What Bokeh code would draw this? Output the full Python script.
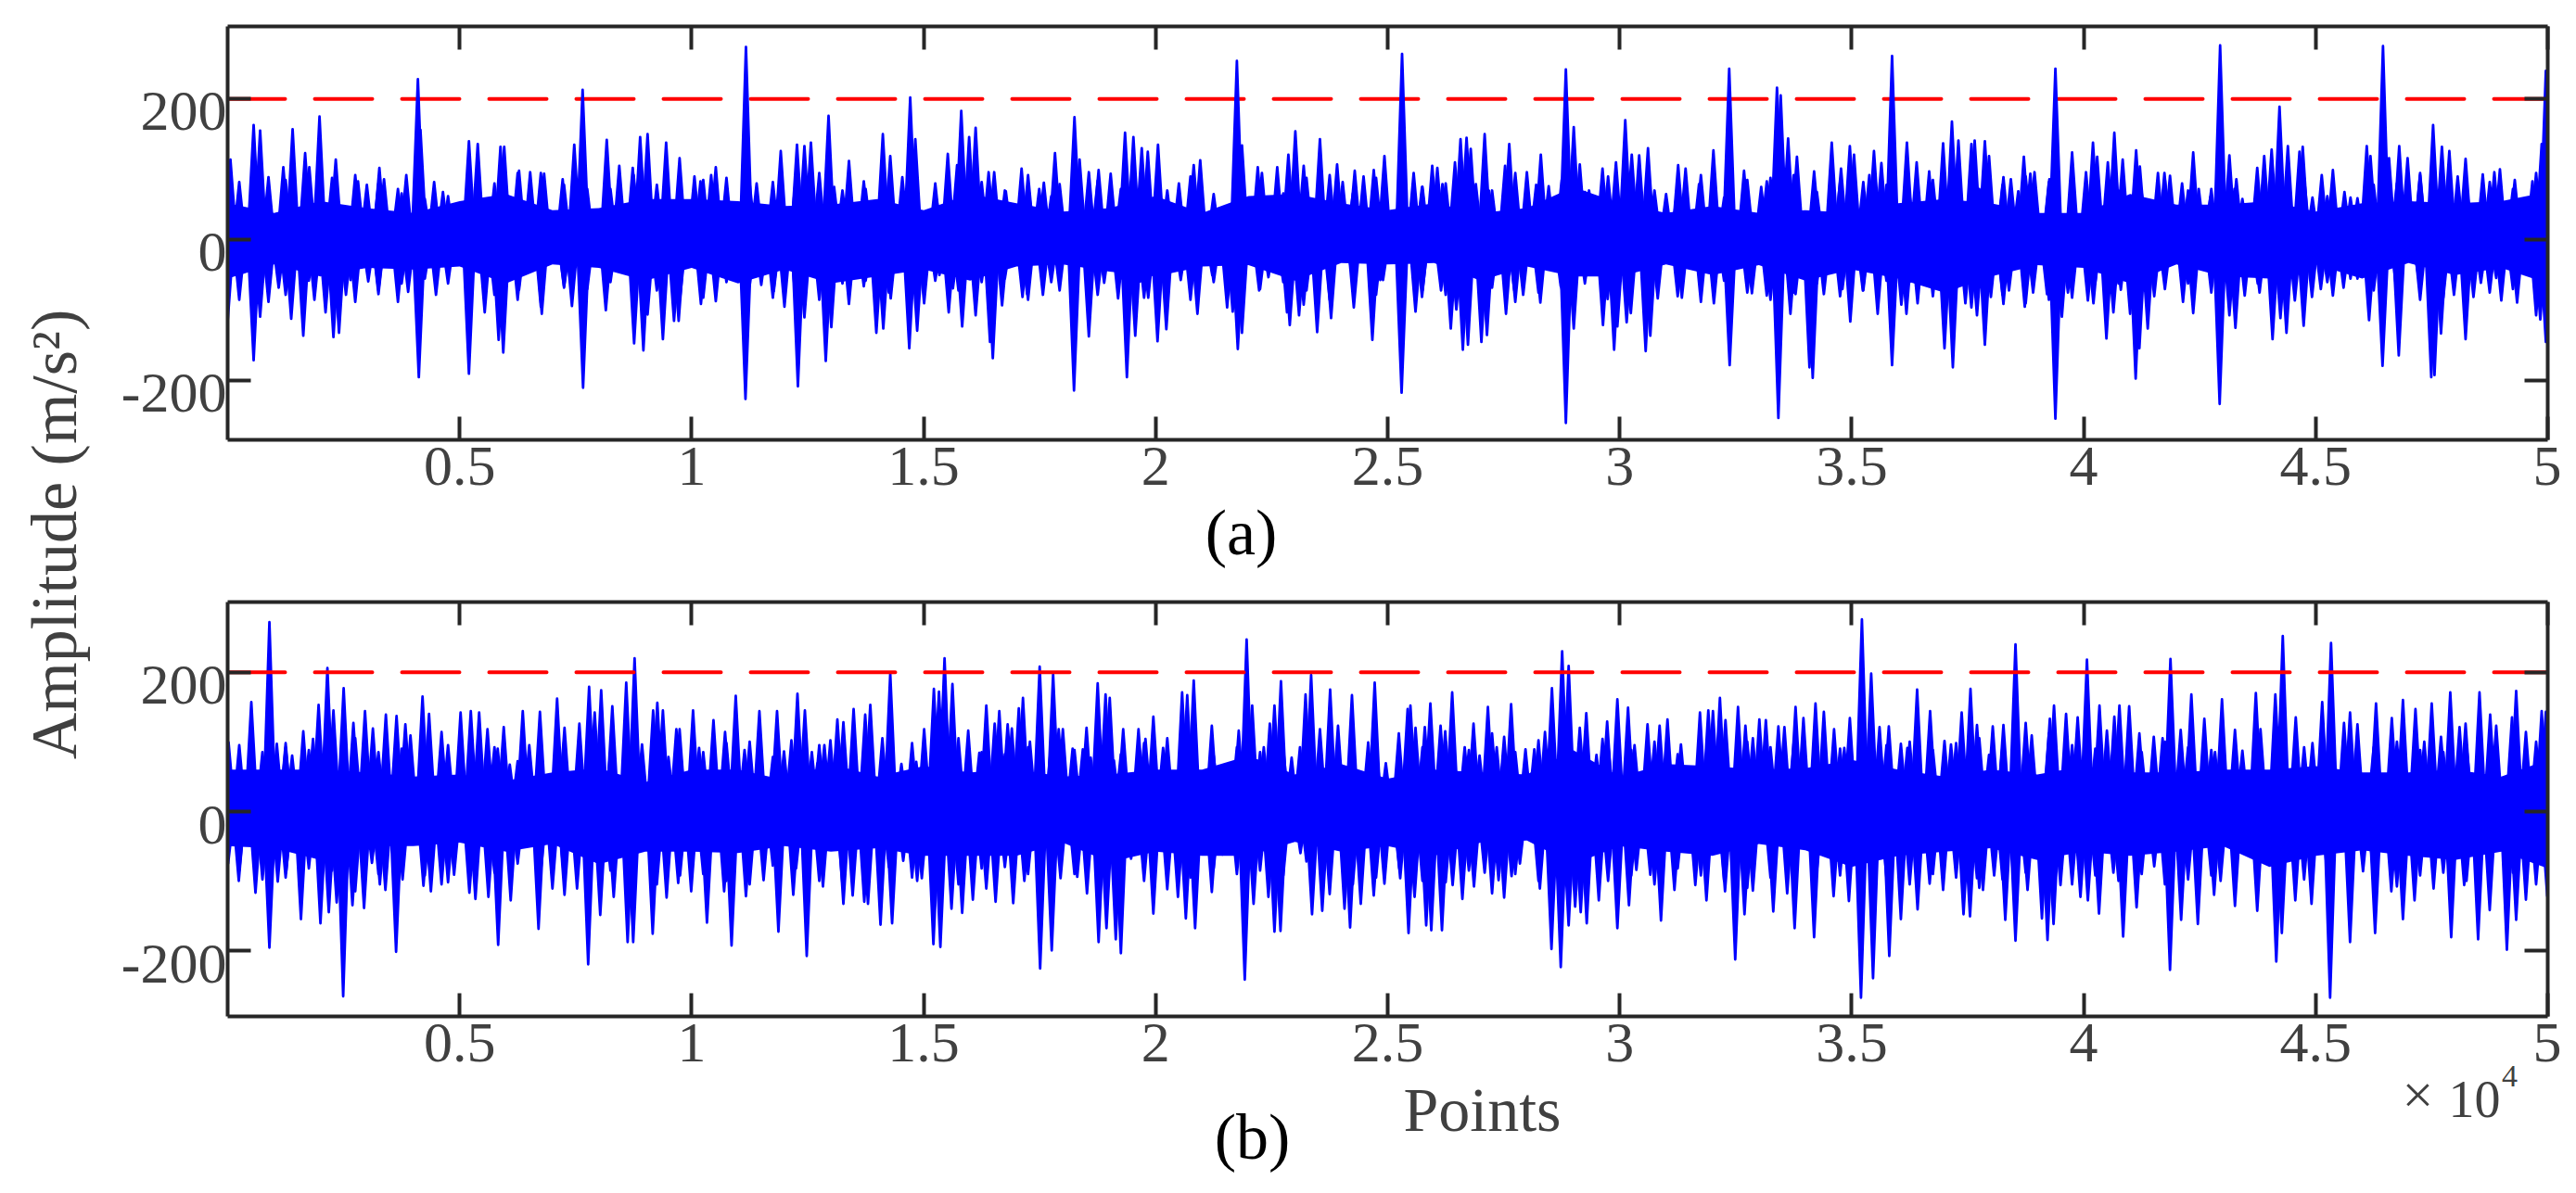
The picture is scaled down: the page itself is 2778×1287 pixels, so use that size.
from bokeh.embed import file_html
from bokeh.layouts import column
from bokeh.models import FixedTicker, Label, LinearAxis, Range1d
from bokeh.plotting import figure
from bokeh.resources import INLINE

x_ticks = [5000, 10000, 15000, 20000, 25000, 30000, 35000, 40000, 45000, 50000]
x_tick_labels = ["0.5", "1", "1.5", "2", "2.5", "3", "3.5", "4", "4.5", "5"]
y_ticks = [-200, 0, 200]
y_tick_labels = ["-200", "0", "200"]
threshold_x = [0, 50000]
threshold_a = [200, 200]
threshold_b = [200, 200]

# solid part of the signal, read every 1000 points
body_x = [i * 1000 for i in range(51)]
body_a_up = [52, 38, 55, 45, 38, 55, 65, 42, 45, 58, 58, 55, 48, 50, 58, 42, 65, 52, 40, 45, 62, 38, 62, 65, 52,
             42, 52, 38, 45, 75, 52, 38, 48, 38, 42, 38, 52, 58, 52, 38, 38, 65, 50, 50, 55, 40, 52, 55, 52, 55, 68]
body_a_low = [-55, -35, -52, -40, -42, -38, -62, -35, -40, -58, -40, -62, -42, -62, -52, -42, -58, -38, -35, -45, -52, -38, -36, -58, -33,
              -35, -33, -58, -38, -52, -52, -35, -50, -36, -58, -42, -55, -75, -52, -36, -40, -62, -35, -52, -55, -35, -55, -33, -50, -40, -62]
body_b_up = [60, 60, 60, 56, 50, 53, 44, 56, 62, 42, 60, 60, 45, 68, 50, 65, 56, 60, 50, 53, 60, 60, 80, 53, 68,
             47, 60, 56, 53, 88, 50, 68, 65, 60, 62, 74, 60, 50, 60, 53, 65, 56, 56, 60, 60, 65, 56, 56, 60, 50, 74]
body_b_low = [-50, -53, -70, -50, -50, -45, -58, -47, -76, -58, -58, -60, -50, -58, -53, -64, -64, -64, -45, -73, -58, -64, -64, -44, -58,
              -50, -64, -45, -42, -76, -50, -58, -64, -47, -56, -80, -64, -58, -53, -70, -58, -64, -58, -50, -80, -64, -56, -64, -70, -58, -82]

# height of the dense comb over the solid part, read every 500 points from 250
comb_x = [250 + i * 500 for i in range(100)]
comb_a_up = [82, 60, 85, 75, 88, 92, 80, 66, 58, 62, 62, 80, 95, 95, 78, 72, 72, 92, 78, 82,
             85, 88, 80, 82, 92, 95, 70, 72, 80, 88, 80, 70, 82, 70, 92, 62, 78, 84, 72, 82,
             70, 90, 65, 85, 80, 66, 88, 92, 66, 88, 62, 75, 80, 65, 70, 95, 75, 85, 68, 70,
             62, 70, 80, 92, 60, 85, 88, 92, 68, 82, 82, 78, 62, 85, 85, 72, 78, 90, 82, 85,
             60, 70, 66, 85, 70, 72, 72, 80, 82, 88, 62, 60, 78, 80, 92, 88, 78, 82, 72, 95]
comb_a_low = [-85, -60, -78, -58, -80, -88, -72, -62, -55, -62, -60, -78, -85, -95, -68, -70, -60, -78, -72, -82,
              -82, -60, -65, -82, -90, -85, -62, -58, -75, -80, -58, -72, -60, -55, -85, -60, -70, -78, -55, -82,
              -62, -85, -60, -72, -70, -60, -72, -85, -60, -78, -50, -72, -78, -65, -68, -88, -75, -70, -62, -65,
              -62, -55, -80, -88, -58, -75, -85, -75, -62, -80, -72, -58, -60, -80, -72, -68, -78, -90, -85, -82,
              -60, -62, -65, -70, -62, -75, -78, -62, -85, -78, -60, -55, -72, -78, -85, -82, -58, -75, -70, -92]
comb_b_up = [95, 85, 98, 88, 92, 105, 85, 90, 82, 95, 88, 92, 72, 80, 100, 75, 85, 98, 102, 92,
             85, 98, 100, 78, 85, 95, 102, 90, 72, 98, 80, 105, 85, 82, 92, 100, 88, 95, 82, 98,
             105, 95, 80, 92, 85, 90, 78, 88, 100, 95, 75, 92, 100, 88, 112, 85, 102, 95, 82, 98,
             88, 100, 82, 95, 90, 100, 92, 98, 82, 90, 85, 95, 100, 88, 98, 105, 92, 85, 112, 95,
             90, 95, 85, 100, 92, 88, 85, 98, 90, 92, 85, 95, 92, 100, 88, 85, 95, 88, 82, 100]
comb_b_low = [-85, -98, -95, -82, -85, -115, -90, -85, -92, -102, -85, -88, -75, -85, -95, -70, -85, -100, -105, -92,
              -90, -100, -105, -78, -82, -100, -105, -92, -80, -95, -85, -105, -82, -80, -90, -108, -90, -95, -85, -100,
              -112, -95, -82, -90, -85, -92, -72, -85, -105, -95, -82, -100, -102, -85, -118, -90, -100, -95, -88, -100,
              -92, -105, -82, -92, -100, -110, -95, -100, -85, -92, -85, -95, -105, -90, -95, -110, -98, -88, -118, -105,
              -92, -100, -90, -105, -98, -92, -88, -102, -95, -98, -90, -100, -98, -108, -92, -88, -100, -92, -88, -105]

# spikes of panel (a)
a_top = [(60, 114), (560, 163), (700, 155), (880, 89), (1200, 103), (1400, 157), (1670, 123), (1760, 103), (1980, 175), (2330, 114),
         (2810, 83), (3000, 78), (3270, 102), (3370, 86), (3670, 72), (3850, 92), (4100, 228), (4155, 156), (4450, 82), (4640, 68),
         (5200, 140), (5390, 136), (5880, 132), (5960, 132), (6280, 98), (6520, 96), (6820, 94), (7220, 86), (7470, 135), (7650, 213),
         (8170, 142), (8440, 105), (8730, 102), (8890, 146), (9050, 150), (9450, 138), (9740, 116), (10060, 90), (10190, 83), (10420, 92),
         (10520, 103), (11170, 274), (11400, 80), (11920, 126), (12270, 135), (12430, 133), (12570, 138), (12950, 176), (13070, 75), (13390, 112),
         (13710, 83), (14120, 150), (14280, 119), (14540, 89), (14710, 202), (14820, 143), (15280, 57), (15520, 122), (15720, 106), (15810, 183),
         (15980, 146), (16120, 159), (16400, 96), (16520, 96), (16770, 69), (17110, 101), (17250, 80), (17490, 72), (17590, 81), (17830, 123),
         (17930, 79), (18250, 174), (18360, 114), (18560, 96), (18770, 99), (19030, 94), (19340, 152), (19520, 146), (19700, 130), (19830, 125),
         (20050, 135), (20500, 80), (20820, 106), (20960, 113), (21260, 53), (21750, 254), (21860, 134), (22200, 103), (22290, 95), (22620, 103),
         (22860, 121), (23010, 154), (23190, 105), (23540, 143), (23910, 107), (24030, 82), (24290, 98), (24480, 90), (24700, 99), (24930, 119),
         (25310, 264), (25560, 95), (25740, 75), (25960, 105), (26070, 102), (26180, 79), (26450, 110), (26570, 143), (26700, 145), (26790, 129),
         (26900, 79), (27090, 150), (27180, 70), (27530, 105), (27620, 136), (28000, 96), (28200, 78), (28300, 121), (28470, 76), (28840, 242),
         (29010, 160), (29140, 107), (29340, 70), (29630, 101), (29750, 90), (29920, 110), (30120, 170), (30260, 121), (30420, 120), (30610, 130),
         (31000, 65), (31260, 106), (31420, 101), (31710, 79), (32020, 127), (32360, 243), (32680, 98), (33050, 75), (33170, 83), (33390, 216),
         (33470, 205), (33630, 144), (33820, 118), (34190, 97), (34570, 138), (34770, 101), (34960, 133), (35050, 121), (35380, 92), (35480, 126),
         (35640, 109), (35870, 261), (36190, 138), (36400, 110), (36670, 97), (36970, 137), (37160, 168), (37300, 141), (37580, 136), (37650, 141),
         (37870, 140), (37960, 119), (38270, 89), (38430, 86), (38590, 69), (38710, 118), (38850, 94), (38940, 96), (39260, 86), (39390, 243),
         (39750, 124), (40050, 96), (40200, 138), (40290, 118), (40520, 110), (40660, 152), (40840, 114), (41130, 127), (41210, 104), (41600, 95),
         (41740, 95), (41860, 91), (42120, 80), (42360, 124), (42480, 72), (42730, 61), (42940, 276), (43140, 120), (43290, 86), (43420, 58),
         (43740, 102), (43890, 119), (44050, 128), (44220, 189), (44400, 133), (44650, 125), (44720, 132), (44930, 60), (45130, 92), (45370, 99),
         (45620, 68), (45900, 59), (46100, 133), (46180, 119), (46450, 275), (46580, 116), (46800, 133), (46980, 116), (47250, 95), (47530, 163),
         (47720, 132), (47880, 126), (48060, 90), (48230, 115), (48600, 93), (48850, 96), (48970, 100), (49290, 85), (49670, 83), (49870, 136), (49960, 240)]
a_bottom = [(0, -116), (560, -171), (700, -109), (880, -88), (1100, -68), (1370, -112), (1630, -136), (1870, -85), (2110, -103), (2280, -138),
            (2400, -132), (2550, -78), (2650, -57), (3030, -59), (3250, -77), (3670, -88), (3890, -74), (4120, -195), (4490, -78), (5200, -190),
            (5540, -103), (5840, -142), (5940, -160), (6280, -71), (6770, -105), (7250, -66), (7420, -94), (7660, -210), (8150, -100), (8760, -147),
            (8960, -157), (9050, -106), (9380, -141), (9620, -115), (9720, -115), (10200, -91), (10520, -87), (11160, -226), (11500, -64), (11770, -73),
            (12000, -95), (12290, -208), (12430, -110), (12890, -172), (13010, -124), (13390, -91), (13710, -66), (13980, -132), (14130, -126), (14290, -83),
            (14690, -154), (14860, -129), (15010, -90), (15340, -50), (15540, -103), (15630, -69), (15830, -123), (16120, -107), (16430, -145), (16490, -168),
            (16690, -93), (17130, -81), (17230, -77), (17570, -78), (17930, -72), (18240, -214), (18560, -137), (18890, -61), (19190, -83), (19380, -195),
            (19560, -136), (19670, -59), (19840, -82), (20040, -144), (20230, -127), (20540, -57), (20900, -105), (21220, -50), (21540, -96), (21660, -102),
            (21770, -155), (21860, -132), (22230, -72), (22430, -53), (22830, -103), (22890, -121), (23090, -107), (23190, -92), (23480, -131), (23780, -111),
            (24270, -96), (24670, -142), (24840, -57), (24900, -57), (25300, -217), (25600, -102), (25740, -81), (26150, -72), (26360, -126), (26480, -99),
            (26620, -156), (26730, -149), (27020, -145), (27140, -135), (27550, -105), (27730, -72), (27920, -78), (28290, -89), (28730, -66), (28840, -260),
            (29010, -126), (29260, -53), (29640, -121), (29740, -84), (29880, -156), (29950, -123), (30150, -117), (30240, -104), (30560, -158), (30660, -136),
            (30820, -83), (31250, -68), (31340, -82), (31740, -59), (32030, -90), (32370, -178), (32850, -76), (33170, -79), (33420, -253), (33680, -105),
            (33790, -77), (34090, -181), (34160, -196), (34400, -77), (34800, -70), (34970, -116), (35240, -72), (35560, -105), (35870, -178), (36070, -92),
            (36180, -105), (36420, -90), (37000, -154), (37180, -181), (37450, -90), (37580, -96), (37700, -107), (37870, -149), (38000, -81), (38270, -91),
            (38390, -72), (38730, -95), (38910, -75), (39210, -77), (39390, -254), (39530, -109), (39660, -75), (40090, -86), (40210, -90), (40490, -140),
            (40640, -103), (40800, -71), (41000, -105), (41120, -197), (41200, -154), (41380, -126), (41520, -80), (42140, -88), (42360, -104), (42930, -233),
            (43140, -107), (43270, -125), (43470, -79), (43790, -75), (44070, -141), (44240, -111), (44370, -132), (44550, -86), (44740, -122), (44920, -81),
            (45110, -70), (45370, -79), (45600, -68), (45900, -55), (46150, -114), (46440, -179), (46790, -164), (47220, -55), (47490, -195), (47560, -192),
            (47700, -133), (47980, -78), (48230, -141), (48400, -81), (48560, -61), (48890, -54), (49000, -86), (49340, -89), (49750, -107), (49840, -113), (49960, -145)]

# spikes of panel (b)
b_top = [(20, 99), (510, 157), (900, 272), (1060, 97), (1250, 92), (1390, 80), (1630, 115), (1840, 104), (1960, 153), (2150, 206),
         (2280, 145), (2500, 177), (2710, 127), (2960, 144), (3130, 119), (3410, 139), (3640, 137), (3830, 125), (3940, 109), (4200, 165),
         (4340, 140), (4610, 114), (5020, 142), (5240, 144), (5420, 142), (5600, 118), (5820, 90), (5950, 121), (6080, 67), (6360, 144),
         (6500, 95), (6730, 143), (7100, 162), (7260, 120), (7580, 126), (7790, 179), (7910, 142), (8050, 174), (8290, 151), (8590, 185),
         (8770, 220), (8930, 96), (9170, 145), (9260, 156), (9380, 145), (9500, 78), (9670, 118), (9740, 118), (10030, 145), (10160, 91),
         (10470, 131), (10720, 114), (10950, 166), (11140, 88), (11460, 144), (11840, 144), (11990, 86), (12150, 102), (12280, 169), (12440, 145),
         (12590, 85), (12710, 69), (12860, 95), (12990, 102), (13140, 132), (13270, 128), (13490, 147), (13740, 139), (13850, 153), (14110, 105),
         (14280, 198), (14520, 68), (14840, 71), (15010, 118), (15220, 176), (15330, 172), (15450, 220), (15620, 183), (15730, 84), (15960, 116),
         (16200, 84), (16350, 152), (16530, 126), (16630, 144), (16810, 125), (16900, 119), (17050, 148), (17140, 163), (17290, 100), (17500, 208),
         (17790, 197), (17910, 118), (18000, 118), (18210, 90), (18430, 89), (18510, 120), (18600, 77), (18750, 184), (18920, 168), (19010, 163),
         (19100, 73), (19300, 118), (19630, 118), (19780, 104), (19950, 136), (20160, 91), (20570, 171), (20680, 167), (20820, 188), (21210, 123),
         (21530, 63), (21790, 116), (21960, 247), (22080, 152), (22330, 92), (22460, 126), (22560, 152), (22700, 187), (22930, 77), (23110, 92),
         (23230, 168), (23350, 196), (23540, 118), (23760, 175), (23930, 123), (24230, 167), (24580, 99), (24720, 185), (24960, 69), (25240, 112),
         (25430, 147), (25490, 152), (25600, 120), (25800, 121), (25920, 155), (26140, 123), (26240, 115), (26390, 171), (26660, 92), (26850, 126),
         (26980, 80), (27160, 150), (27350, 92), (27510, 107), (27660, 154), (27970, 89), (28160, 89), (28390, 114), (28540, 177), (28760, 230),
         (28900, 209), (29140, 120), (29280, 141), (29500, 81), (29630, 104), (29730, 129), (29950, 161), (30180, 149), (30320, 95), (30600, 125),
         (30860, 123), (31030, 132), (31320, 96), (31550, 54), (31730, 142), (31910, 145), (32010, 144), (32160, 163), (32280, 131), (32550, 150),
         (32710, 123), (32870, 105), (33010, 132), (33150, 131), (33420, 122), (33550, 121), (33790, 150), (33960, 134), (34220, 155), (34400, 143),
         (34620, 118), (34840, 91), (34960, 134), (35220, 276), (35420, 198), (35600, 121), (35800, 122), (36060, 97), (36200, 91), (36410, 175),
         (36690, 144), (37000, 101), (37140, 96), (37370, 142), (37560, 176), (37700, 124), (37960, 81), (38040, 122), (38270, 124), (38530, 240),
         (38750, 127), (38880, 109), (39270, 133), (39360, 152), (39620, 140), (39870, 135), (40070, 218), (40340, 152), (40500, 116), (40660, 136),
         (40770, 152), (40980, 151), (41200, 112), (41510, 107), (41700, 105), (41870, 219), (42090, 117), (42320, 168), (42600, 133), (42830, 85),
         (42980, 161), (43260, 117), (43420, 87), (43710, 170), (43810, 118), (44130, 168), (44290, 252), (44570, 135), (44930, 98), (45140, 157),
         (45330, 242), (45610, 127), (45740, 142), (45900, 125), (46300, 155), (46640, 134), (46880, 160), (47150, 147), (47340, 100), (47500, 155),
         (47700, 107), (47900, 171), (48100, 121), (48230, 126), (48530, 171), (48760, 139), (48890, 123), (49230, 135), (49320, 173), (49530, 114), (49870, 144), (49960, 143)]
b_bottom = [(10, -75), (240, -100), (600, -117), (900, -196), (1080, -101), (1260, -88), (1580, -155), (2000, -161), (2180, -145), (2350, -131),
            (2490, -266), (2690, -135), (2940, -139), (3110, -74), (3280, -105), (3400, -113), (3630, -202), (3770, -98), (4220, -107), (4380, -115),
            (4610, -105), (4880, -91), (5210, -117), (5340, -126), (5620, -123), (5830, -192), (6100, -128), (6700, -169), (7000, -111), (7260, -120),
            (7530, -111), (7770, -220), (8030, -149), (8320, -123), (8620, -188), (8740, -188), (9160, -176), (9460, -124), (9710, -103), (9990, -115),
            (10330, -160), (10700, -115), (10860, -193), (11170, -122), (11550, -99), (11870, -173), (12190, -120), (12480, -208), (12830, -108), (13270, -133),
            (13470, -121), (13720, -130), (13800, -133), (14070, -163), (14320, -161), (14560, -71), (14860, -100), (14960, -96), (15210, -191), (15360, -195),
            (15600, -140), (15830, -146), (16060, -127), (16350, -111), (16550, -130), (16930, -132), (17170, -100), (17510, -226), (17760, -200), (17950, -96),
            (18310, -94), (18520, -118), (18770, -188), (18940, -168), (19140, -184), (19250, -204), (19470, -68), (19950, -147), (20480, -123), (20650, -154),
            (20850, -168), (21210, -116), (21440, -62), (21550, -60), (21920, -242), (22110, -133), (22430, -123), (22560, -173), (22690, -172), (23120, -60),
            (23370, -148), (23590, -143), (23750, -119), (24070, -140), (24190, -167), (24420, -133), (24700, -121), (24930, -104), (25270, -96), (25450, -175),
            (25580, -123), (25830, -164), (25940, -171), (26170, -171), (26400, -106), (26610, -126), (26860, -108), (27090, -88), (27390, -99), (27510, -124),
            (27670, -93), (27850, -75), (28280, -111), (28530, -198), (28730, -224), (28900, -164), (29040, -137), (29160, -145), (29290, -161), (29550, -128),
            (29950, -168), (30200, -135), (30360, -84), (30660, -91), (30890, -157), (31180, -113), (31630, -106), (31870, -128), (32270, -115), (32490, -213),
            (32690, -148), (32870, -114), (33310, -144), (33610, -118), (33770, -168), (34190, -181), (34610, -122), (34940, -129), (35200, -268), (35460, -240),
            (35810, -208), (36060, -155), (36420, -141), (36680, -104), (36970, -113), (37410, -148), (37550, -151), (37700, -96), (37830, -113), (38070, -92),
            (38310, -156), (38530, -186), (38790, -113), (39100, -154), (39220, -185), (39350, -162), (39500, -106), (39930, -123), (40090, -128), (40330, -147),
            (40640, -88), (40850, -180), (41140, -138), (41520, -79), (41860, -228), (42100, -156), (42460, -162), (42810, -120), (42950, -100), (43260, -136),
            (43740, -143), (44150, -216), (44270, -175), (44560, -128), (44910, -133), (45310, -268), (45740, -188), (46020, -86), (46280, -175), (46630, -115),
            (46880, -155), (47130, -128), (47540, -111), (47920, -181), (48200, -106), (48500, -184), (48750, -142), (49120, -199), (49320, -156), (49530, -127), (49990, -122)]

SERIF = "Liberation Serif"
GREY = "#404040"
AXIS = "#262626"
BLUE = "#0000ff"
TICK_FONT = "62px"
PAGE_W = 2762
PAGE_H = 1270
WEDGE = 130  # half base of a spike, in points


def panel(ylim, body_up, body_low, comb_up, comb_low, top, bottom, limit, height, border_top, frame_h, red_on_top):
    p = figure(width=PAGE_W, height=height, output_backend="svg", toolbar_location=None,
               x_range=Range1d(0, 50000), y_range=Range1d(*ylim), tools="",
               x_axis_type=None, y_axis_type=None,
               frame_width=2502, frame_height=frame_h, frame_align=False,
               min_border_left=245, min_border_right=15,
               min_border_top=border_top, min_border_bottom=height - border_top - frame_h,
               background_fill_alpha=0, border_fill_alpha=0, outline_line_color=None)
    p.grid.visible = False

    blank_x = {t: "" for t in x_ticks}
    blank_y = {t: "" for t in y_ticks}
    bottom_axis = LinearAxis(ticker=FixedTicker(ticks=x_ticks),
                             major_label_overrides=dict(zip(x_ticks, x_tick_labels)),
                             major_label_text_font=SERIF, major_label_text_font_size=TICK_FONT,
                             major_label_text_color=GREY, major_label_standoff=8)
    top_axis = LinearAxis(ticker=FixedTicker(ticks=x_ticks), major_label_overrides=blank_x,
                          major_label_text_font_size="0px", major_label_standoff=0)
    left_axis = LinearAxis(ticker=FixedTicker(ticks=y_ticks), major_label_overrides=blank_y,
                           major_label_text_font_size="0px", major_label_standoff=0)
    right_axis = LinearAxis(ticker=FixedTicker(ticks=y_ticks), major_label_overrides=blank_y,
                            major_label_text_font_size="0px", major_label_standoff=0)
    p.add_layout(bottom_axis, "below")
    p.add_layout(top_axis, "above")
    p.add_layout(left_axis, "left")
    p.add_layout(right_axis, "right")
    for ax in (bottom_axis, top_axis, left_axis, right_axis):
        ax.axis_line_color = AXIS
        ax.axis_line_width = 4
        ax.major_tick_line_color = AXIS
        ax.major_tick_line_width = 4
        ax.major_tick_in = 25
        ax.major_tick_out = 0
        ax.minor_tick_line_color = None

    def red():
        p.line(threshold_x, limit, line_color="#ff0000", line_width=4,
               line_dash=[62, 32], line_cap="round")

    if not red_on_top:
        red()
    p.varea(x=body_x, y1=body_low, y2=body_up, fill_color=BLUE)
    spikes = list(top) + list(bottom) + list(zip(comb_x, comb_up)) + list(zip(comb_x, comb_low))
    xs = [[s[0] - WEDGE, s[0], s[0] + WEDGE] for s in spikes]
    ys = [[0, s[1], 0] for s in spikes]
    p.patches(xs, ys, fill_color=BLUE, line_color=BLUE, line_width=2.8, line_join="round")
    if red_on_top:
        red()
    return p


# transparent panels lie over one page-sized figure that carries the free texts
page = figure(width=PAGE_W, height=PAGE_H, output_backend="svg", toolbar_location=None, tools="",
              x_range=Range1d(0, PAGE_W), y_range=Range1d(PAGE_H, 0),
              x_axis_type=None, y_axis_type=None, frame_width=PAGE_W, frame_height=PAGE_H,
              frame_align=False, min_border=0, outline_line_color=None)
page.grid.visible = False


def page_text(text, px, py, size, color=GREY, angle=0, align="center"):
    page.add_layout(Label(x=px, y=py, text=text, text_font=SERIF, text_font_size=size,
                          text_color=color, text_align=align, text_baseline="middle", angle=angle))


fig_a = panel((-284, 303), body_a_up, body_a_low, comb_a_up, comb_a_low, a_top, a_bottom, threshold_a,
              534, 28, 446, False)
fig_b = panel((-295, 301), body_b_up, body_b_low, comb_b_up, comb_b_low, b_top, b_bottom, threshold_b,
              527, 20, 447, True)
fig_a.margin = (-PAGE_H, 0, 0, 0)
fig_b.margin = (95, 0, 0, 0)

# tick labels sit a little under their ticks in the original
for value, text in zip(y_ticks, y_tick_labels):
    page_text(text, 244, 258 - value * 0.76 + 13, TICK_FONT, align="right")
    page_text(text, 244, 875 - value * 0.751 + 14, TICK_FONT, align="right")

page_text("Amplitude (m/s\u00b2)", 58, 576, "70px", angle=1.5708)
page_text("(a)", 1338, 574, "70px", color="#000000")
page_text("(b)", 1350, 1226, "70px", color="#000000")
page_text("Points", 1598, 1196, "68px")
page_text("\u00d7", 2607, 1180, "60px")
page_text("10", 2668, 1185, "56px")
page_text("4", 2706, 1160, "34px")

open("out.html", "w").write(file_html(column(page, fig_a, fig_b), INLINE))
